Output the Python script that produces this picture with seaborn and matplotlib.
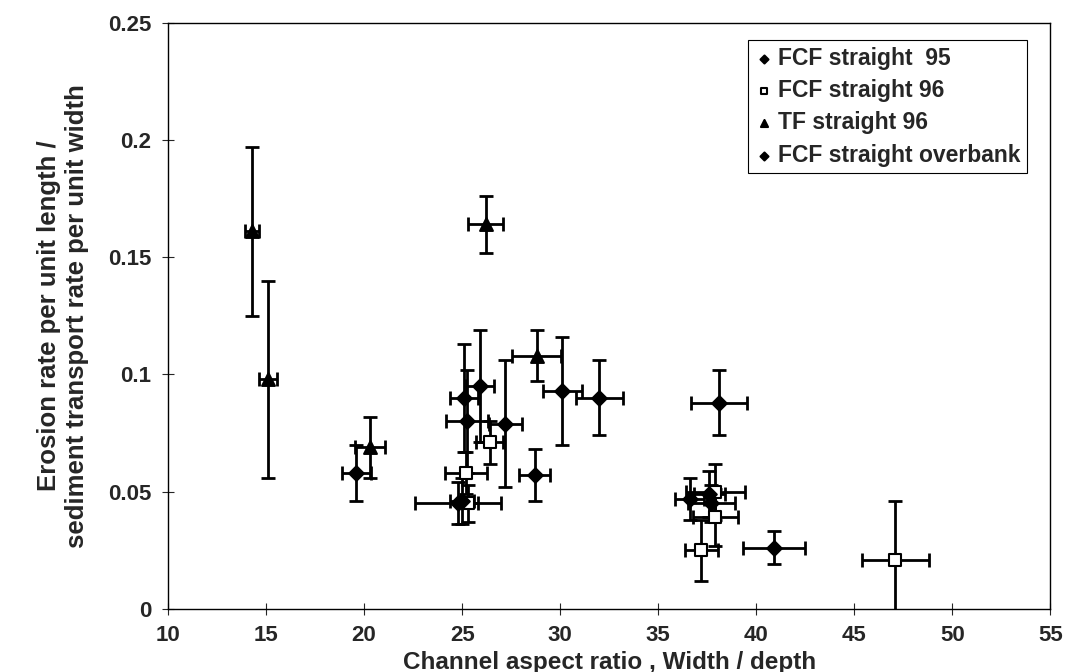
import numpy as np
import pandas as pd
import seaborn as sns
from matplotlib import pyplot as plt

# FCF straight 95 (filled diamonds)
fcf95_x = [19.6, 25.1, 25.25, 25.9, 27.2, 28.7, 30.1, 32.0, 24.8]
fcf95_y = [0.058, 0.090, 0.080, 0.095, 0.079, 0.057, 0.093, 0.090, 0.045]
fcf95_xerr = [0.75, 0.7, 1.05, 0.7, 0.85, 0.8, 1.0, 1.2, 2.2]
fcf95_yerr = [0.012, 0.023, 0.022, 0.024, 0.027, 0.011, 0.023, 0.016, 0.009]

# FCF straight 96 (open squares)
fcf96_x = [26.4, 25.2, 25.3, 37.9, 37.9, 37.2, 47.1]
fcf96_y = [0.071, 0.058, 0.045, 0.050, 0.039, 0.025, 0.021]
fcf96_xerr = [0.7, 1.05, 0.5, 1.5, 1.15, 0.85, 1.7]
fcf96_yerr = [0.009, 0.009, 0.008, 0.012, 0.012, 0.013, 0.025]

# TF straight 96 (triangles)
tf96_x = [14.3, 15.1, 20.3, 26.2, 28.8]
tf96_y = [0.161, 0.098, 0.069, 0.164, 0.108]
tf96_xerr = [0.35, 0.45, 0.75, 0.9, 1.25]
tf96_yerr = [0.036, 0.042, 0.013, 0.012, 0.011]

# FCF straight overbank (filled diamonds)
ovb_x = [38.1, 40.9, 36.6, 37.6, 37.7, 25.0]
ovb_y = [0.088, 0.026, 0.047, 0.049, 0.045, 0.046]
ovb_xerr = [1.45, 1.6, 0.75, 0.8, 1.2, 0.6]
ovb_yerr = [0.014, 0.007, 0.009, 0.010, 0.008, 0.010]

series = ["FCF straight  95", "FCF straight 96", "TF straight 96", "FCF straight overbank"]

frames = []
for name, xs, ys, xe, ye in [
    (series[0], fcf95_x, fcf95_y, fcf95_xerr, fcf95_yerr),
    (series[1], fcf96_x, fcf96_y, fcf96_xerr, fcf96_yerr),
    (series[2], tf96_x, tf96_y, tf96_xerr, tf96_yerr),
    (series[3], ovb_x, ovb_y, ovb_xerr, ovb_yerr),
]:
    frames.append(pd.DataFrame({"ratio": xs, "rate": ys, "xerr": xe, "yerr": ye, "series": name}))
df = pd.concat(frames, ignore_index=True)

sns.set_style("ticks")
plt.rcParams['font.family'] = ['Liberation Sans', 'DejaVu Sans']
plt.rcParams['font.weight'] = 'bold'

fig = plt.figure(figsize=(10.84, 6.72), dpi=100)
ax = fig.add_axes([0.155, 0.094, 0.814, 0.872])

ax.errorbar(df["ratio"], df["rate"], xerr=df["xerr"], yerr=df["yerr"], fmt='none',
            ecolor='black', elinewidth=2.0, capsize=5, capthick=2.0, zorder=2)

markers = {series[0]: 'D', series[1]: 's', series[2]: '^', series[3]: 'D'}
sizes = {series[0]: 55, series[1]: 80, series[2]: 85, series[3]: 55}
for name in series:
    sub = df[df["series"] == name]
    face = 'white' if name == series[1] else 'black'
    sns.scatterplot(data=sub, x="ratio", y="rate", marker=markers[name], s=sizes[name],
                    color=face, edgecolor='black', linewidth=1.5, ax=ax, zorder=3, label=name)

ax.set_xlim(10, 55)
ax.set_ylim(0, 0.25)
ax.set_xticks(np.arange(10, 56, 5))
ax.set_yticks([0, 0.05, 0.1, 0.15, 0.2, 0.25])
ax.set_yticklabels(["0", "0.05", "0.1", "0.15", "0.2", "0.25"])
ax.tick_params(axis='both', direction='inout', length=8, width=0.8, labelsize=16, pad=8)
for lab in ax.get_xticklabels() + ax.get_yticklabels():
    lab.set_fontweight('bold')
for sp in ax.spines.values():
    sp.set_linewidth(1.0)
    sp.set_color('black')

ax.set_xlabel("Channel aspect ratio , Width / depth", fontsize=17.5, fontweight='bold', labelpad=3)
ax.set_ylabel("Erosion rate per unit length /\nsediment transport rate per unit width",
              fontsize=18.5, fontweight='bold', labelpad=14)

leg = ax.legend(loc='upper right', bbox_to_anchor=(0.987, 0.99), fancybox=False, framealpha=1,
                edgecolor='black', prop={'size': 16.5, 'weight': 'bold'}, handletextpad=0.2,
                borderpad=0.3, labelspacing=0.4, markerscale=0.55, handlelength=0.8)
leg.get_frame().set_linewidth(0.8)

fig.savefig("out.png", dpi=100)
